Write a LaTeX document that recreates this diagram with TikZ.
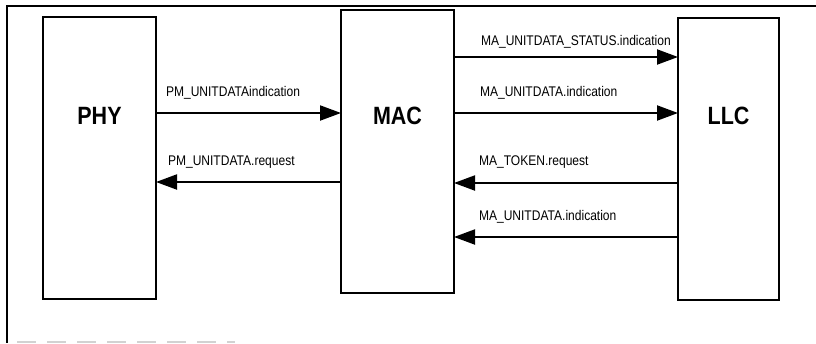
\documentclass[tikz,border=0pt]{standalone}
\usepackage{fontspec}
\setmainfont{Liberation Sans}[FakeStretch=0.86]
\usetikzlibrary{arrows.meta}

\tikzset{
    layer/.style={draw, line width=2pt, inner sep=0pt, outer sep=0pt},
    layername/.style={font=\fontsize{25}{28}\selectfont\bfseries, inner sep=0pt},
    msg/.style={font=\fontsize{14}{16}\selectfont, inner sep=0pt, anchor=base west, pos=0},
    flow/.style={line width=2pt}
}

\begin{document}
\begin{tikzpicture}[x=1pt, y=-1pt, >={Triangle[length=21pt, width=15pt]}]
    \useasboundingbox (0,0) rectangle (816,343);
    \draw[line width=1.5pt] (816,6) -- (7,6) -- (7,343);
    \draw[gray!35, line width=2pt, dash pattern=on 19pt off 11pt] (17,342) -- (235,342);

    % the three layers
    \node[layer, minimum width=113, minimum height=282] (phy) at (99.5,158) {};
    \node[layer, minimum width=113, minimum height=283] (mac) at (397.5,151.5) {};
    \node[layer, minimum width=101, minimum height=282] (llc) at (728.5,159) {};
    \node[layername] (phyname) at (phy.center |- 0,116) {PHY};
    \node[layername] (macname) at (mac.center |- 0,116) {MAC};
    \node[layername] (llcname) at (llc.center |- 0,116) {LLC};

    % PHY <-> MAC
    \draw[flow, ->] (phy.east |- 0,113) -- node[msg, xshift=9pt, yshift=17pt] (pmind) {PM\_UNITDATAindication} (mac.west |- 0,113);
    \draw[flow, <-] (phy.east |- 0,182) -- node[msg, xshift=11pt, yshift=17pt] (pmreq) {PM\_UNITDATA.request} (mac.west |- 0,182);

    % MAC <-> LLC
    \draw[flow, ->] (mac.east |- 0,57) -- node[msg, xshift=26pt, yshift=12pt] (mastatus) {MA\_UNITDATA\_STATUS.indication} (llc.west |- 0,57);
    \draw[flow, ->] (mac.east |- 0,113) -- node[msg, xshift=25pt, yshift=17pt] (maind) {MA\_UNITDATA.indication} (llc.west |- 0,113);
    \draw[flow, <-] (mac.east |- 0,183) -- node[msg, xshift=24pt, yshift=18pt] (matoken) {MA\_TOKEN.request} (llc.west |- 0,183);
    \draw[flow, <-] (mac.east |- 0,237) -- node[msg, xshift=24pt, yshift=17pt] (maindb) {MA\_UNITDATA.indication} (llc.west |- 0,237);
\end{tikzpicture}
\end{document}
